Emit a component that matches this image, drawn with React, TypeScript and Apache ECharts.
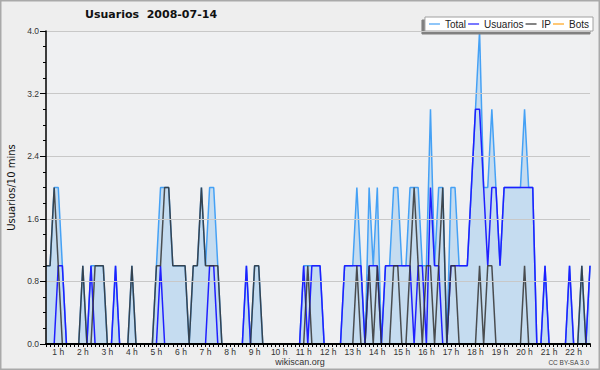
import React, { useEffect, useRef } from 'react';
import * as echarts from 'echarts';

// 10-minute samples, first sample at 0:30, last at 22:40
const START_MINUTE = 30;
const STEP_MINUTES = 10;

const HOUR_LABELS = [
  '1 h', '2 h', '3 h', '4 h', '5 h', '6 h', '7 h', '8 h', '9 h', '10 h', '11 h',
  '12 h', '13 h', '14 h', '15 h', '16 h', '17 h', '18 h', '19 h', '20 h', '21 h', '22 h',
];

const Y_TICKS = [0, 0.8, 1.6, 2.4, 3.2, 4.0];

const TOTAL = [
  1, 1, 2, 2, 1, 0, 0, 0, 0, 1,
  0, 1, 1, 1, 1, 0, 0, 1, 0, 0,
  0, 1, 0, 0, 0, 0, 0, 1, 2, 2,
  2, 1, 1, 1, 1, 0, 1, 1, 2, 1,
  2, 2, 1, 0, 0, 0, 0, 0, 0, 1,
  0, 1, 1, 0, 0, 0, 0, 0, 0, 0,
  0, 0, 0, 1, 1, 1, 1, 1, 0, 0,
  0, 0, 0, 1, 1, 1, 2, 1, 0, 2,
  1, 2, 0, 1, 1, 2, 2, 1, 1, 2,
  2, 2, 1, 1, 3, 1, 2, 2, 0, 2,
  2, 1, 1, 1, 2, 3, 4, 2, 2, 3,
  2, 1, 2, 2, 2, 2, 2, 3, 2, 2,
  0, 0, 1, 0, 0, 0, 0, 0, 1, 0,
  0, 1, 0, 1,
];

const USUARIOS = [
  0, 0, 0, 1, 1, 0, 0, 0, 0, 0,
  0, 1, 0, 0, 0, 0, 0, 1, 0, 0,
  0, 0, 0, 0, 0, 0, 0, 0, 1, 0,
  0, 0, 0, 0, 0, 0, 0, 0, 0, 0,
  1, 1, 0, 0, 0, 0, 0, 0, 0, 1,
  0, 0, 0, 0, 0, 0, 0, 0, 0, 0,
  0, 0, 0, 1, 0, 1, 1, 1, 0, 0,
  0, 0, 0, 1, 1, 1, 1, 1, 0, 1,
  1, 1, 0, 1, 1, 1, 1, 1, 1, 1,
  0, 1, 1, 0, 2, 1, 1, 0, 0, 1,
  1, 1, 1, 1, 2, 3, 3, 2, 1, 2,
  2, 1, 2, 2, 2, 2, 2, 2, 2, 2,
  0, 0, 1, 0, 0, 0, 0, 0, 1, 0,
  0, 0, 0, 1,
];

const IP = [
  1, 1, 2, 1, 0, 0, 0, 0, 0, 1,
  0, 0, 1, 1, 1, 0, 0, 0, 0, 0,
  0, 1, 0, 0, 0, 0, 0, 1, 1, 2,
  2, 1, 1, 1, 1, 0, 1, 1, 2, 1,
  1, 1, 1, 0, 0, 0, 0, 0, 0, 0,
  0, 1, 1, 0, 0, 0, 0, 0, 0, 0,
  0, 0, 0, 0, 1, 0, 0, 0, 0, 0,
  0, 0, 0, 0, 0, 0, 1, 0, 0, 1,
  0, 1, 0, 0, 0, 1, 1, 0, 0, 1,
  2, 1, 0, 1, 1, 0, 1, 2, 0, 1,
  1, 0, 0, 0, 0, 0, 1, 0, 1, 1,
  0, 0, 0, 0, 0, 0, 0, 1, 0, 0,
  0, 0, 0, 0, 0, 0, 0, 0, 0, 0,
  0, 1, 0, 0,
];

const BOTS = [
  0, 0, 0, 0, 0, 0, 0, 0, 0, 0,
  0, 0, 0, 0, 0, 0, 0, 0, 0, 0,
  0, 0, 0, 0, 0, 0, 0, 0, 0, 0,
  0, 0, 0, 0, 0, 0, 0, 0, 0, 0,
  0, 0, 0, 0, 0, 0, 0, 0, 0, 0,
  0, 0, 0, 0, 0, 0, 0, 0, 0, 0,
  0, 0, 0, 0, 0, 0, 0, 0, 0, 0,
  0, 0, 0, 0, 0, 0, 0, 0, 0, 0,
  0, 0, 0, 0, 0, 0, 0, 0, 0, 0,
  0, 0, 0, 0, 0, 0, 0, 0, 0, 0,
  0, 0, 0, 0, 0, 0, 0, 0, 0, 0,
  0, 0, 0, 0, 0, 0, 0, 0, 0, 0,
  0, 0, 0, 0, 0, 0, 0, 0, 0, 0,
  0, 0, 0, 0,
];

const CATEGORIES = TOTAL.map((_, i) => {
  const m = START_MINUTE + i * STEP_MINUTES;
  return `${Math.floor(m / 60)}:${String(m % 60).padStart(2, '0')}`;
});

const SERIES_NAMES = ['Total', 'Usuarios', 'IP', 'Bots'];
const COLORS = ['#45a1f5', '#1f1fff', '#333333', '#ffa31a'];

export default function App() {
  const ref = useRef<HTMLDivElement>(null);

  useEffect(() => {
    if (!ref.current) return;
    const chart = echarts.init(ref.current, undefined, { renderer: 'svg' });

    const isHour = (v: string) => v.endsWith(':00') && parseInt(v, 10) >= 1;

    const option = {
      animation: false,
      backgroundColor: '#eeeeee',
      title: {
        text: 'Usuarios  2008-07-14',
        left: 85,
        top: 9,
        padding: 0,
        textStyle: { fontFamily: 'DejaVu Sans', fontWeight: 'bold', fontSize: 11, color: '#111' },
      },
      legend: {
        data: SERIES_NAMES.map((n) => ({ name: n, icon: 'rect' })),
        right: 7,
        top: 17,
        orient: 'horizontal',
        padding: [2, 4, 2, 4],
        itemGap: 2,
        itemWidth: 11,
        itemHeight: 1.2,
        backgroundColor: '#ffffff',
        borderColor: '#a0a0a0',
        borderWidth: 1,
        shadowColor: '#808080',
        shadowOffsetX: -3,
        shadowOffsetY: 3,
        shadowBlur: 0,
        selectedMode: false,
        textStyle: { fontFamily: 'Liberation Sans', fontSize: 10, color: '#222' },
      },
      grid: {
        left: 46,
        right: 10,
        top: 31,
        bottom: 26,
        show: true,
        backgroundColor: '#eff0f2',
        borderWidth: 0,
        containLabel: false,
        outerBoundsMode: 'none',
      },
      xAxis: {
        type: 'category',
        data: CATEGORIES,
        boundaryGap: false,
        z: 10,
        axisLine: { show: true, lineStyle: { color: '#000', width: 2 } },
        axisTick: { show: true, interval: 0, length: 3, lineStyle: { color: '#000', width: 1 } },
        axisLabel: {
          interval: (_i: number, v: string) => isHour(v),
          formatter: (v: string) => (isHour(v) ? HOUR_LABELS[parseInt(v, 10) - 1] : ''),
          margin: 3,
          fontFamily: 'Liberation Sans',
          fontSize: 8.5,
          color: '#333',
        },
        splitLine: { show: false },
      },
      yAxis: {
        type: 'value',
        min: Y_TICKS[0],
        max: Y_TICKS[Y_TICKS.length - 1],
        interval: Y_TICKS[1] - Y_TICKS[0],
        z: 10,
        name: 'Usuarios/10 mins',
        nameLocation: 'middle',
        nameGap: 30,
        nameTextStyle: { fontFamily: 'DejaVu Sans', fontSize: 10, color: '#111' },
        axisLine: { show: true, lineStyle: { color: '#000', width: 1.5 } },
        axisTick: { show: true, length: 6, lineStyle: { color: '#000', width: 1 } },
        minorTick: { show: true, splitNumber: 4, length: 3, lineStyle: { color: '#000', width: 1 } },
        splitLine: { show: true, lineStyle: { color: '#c8c8c8', width: 1 } },
        minorSplitLine: { show: false },
        axisLabel: {
          formatter: (v: number) => v.toFixed(1),
          margin: 7,
          fontFamily: 'Liberation Sans',
          fontSize: 8.5,
          color: '#333',
        },
      },
      series: [
        {
          name: SERIES_NAMES[0],
          type: 'line',
          data: TOTAL,
          symbol: 'none',
          lineStyle: { color: COLORS[0], width: 1.5 },
          itemStyle: { color: COLORS[0] },
          areaStyle: { color: '#c5dcf0', opacity: 1 },
          z: 2,
        },
        {
          name: SERIES_NAMES[1],
          type: 'line',
          data: USUARIOS,
          symbol: 'none',
          lineStyle: { color: COLORS[1], width: 1.5 },
          itemStyle: { color: COLORS[1] },
          z: 3,
        },
        {
          name: SERIES_NAMES[2],
          type: 'line',
          data: IP,
          symbol: 'none',
          lineStyle: { color: COLORS[2], width: 1.5, opacity: 0.85 },
          itemStyle: { color: COLORS[2] },
          z: 4,
        },
        {
          name: SERIES_NAMES[3],
          type: 'line',
          data: BOTS,
          symbol: 'none',
          lineStyle: { color: COLORS[3], width: 1.5 },
          itemStyle: { color: COLORS[3] },
          z: 1,
        },
      ],
      graphic: [
        {
          type: 'text',
          x: 300,
          y: 362,
          silent: true,
          style: {
            text: 'wikiscan.org',
            align: 'center',
            verticalAlign: 'middle',
            font: '9px "Liberation Sans"',
            fill: '#333',
          },
        },
        {
          type: 'text',
          x: 589,
          y: 362,
          silent: true,
          style: {
            text: 'CC BY-SA 3.0',
            align: 'right',
            verticalAlign: 'middle',
            font: '6.5px "Liberation Sans"',
            fill: '#444',
          },
        },
        {
          type: 'rect',
          silent: true,
          z: 100,
          shape: { x: 0, y: 0, width: 600, height: 370 },
          style: { fill: 'none', stroke: '#a9a9a9', lineWidth: 3 },
        },
      ],
    };

    chart.setOption(option as any);
    return () => chart.dispose();
  }, []);

  return (
    <div
      ref={ref}
      style={{ position: 'fixed', left: 0, top: 0, width: 600, height: 370 }}
    />
  );
}
